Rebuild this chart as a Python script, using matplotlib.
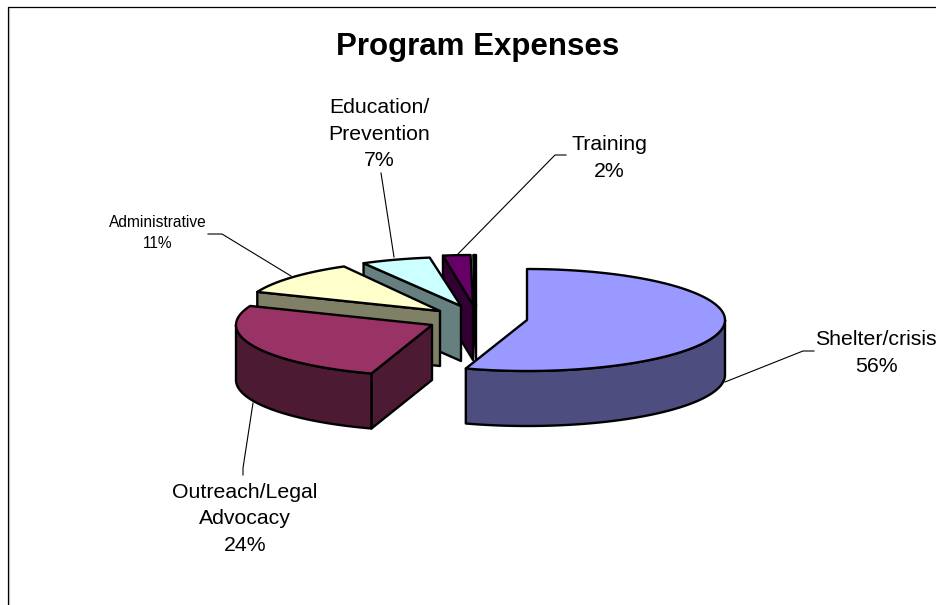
import numpy as np
from matplotlib import pyplot as plt
from matplotlib.patches import Polygon

# wedge sizes as drawn in the picture (3D view skews them a bit from the printed labels)
slice_names = ["Shelter/crisis", "Outreach/Legal", "Administrative", "Education", "Training", "Other"]
slice_shares = [55.0, 26.1, 10.8, 5.6, 2.3, 0.2]
label_texts = ["Shelter/crisis\n56%", "Outreach/Legal\nAdvocacy\n24%", "Administrative\n11%", "Education/\nPrevention\n7%", "Training\n2%"]
top_colors = ["#9999FF", "#993366", "#FFFFCC", "#CCFFFF", "#660066", "#FF8080"]
side_colors = ["#4D4D80", "#4D1A33", "#808066", "#668080", "#330033", "#804040"]

# apex x, apex y, radius x, radius y for each exploded wedge
apex_x = [527, 432, 440, 461, 473, 476]
apex_y = [320, 325, 311, 306, 305, 306]
rad_x = [198, 196, 197, 200, 192, 192]
rad_y = [51, 51, 51, 49, 50, 51]
DEPTH = 55
LW = 1.7


def rim(i, a, b):
    t = np.radians(np.linspace(a, b, max(int(abs(b - a)) * 2, 2)))
    return np.column_stack([apex_x[i] + rad_x[i] * np.sin(t), apex_y[i] - rad_y[i] * np.cos(t)])


def face(ax, pts, color):
    ax.add_patch(Polygon(pts, closed=True, facecolor=color, edgecolor="black", lw=LW, joinstyle="round"))


def extrude(pts):
    return np.vstack([pts, (pts + [0, DEPTH])[::-1]])


def draw_slice(ax, i, start, end):
    apex = np.array([[apex_x[i], apex_y[i]]], dtype=float)
    # radial cut faces that look towards the viewer
    if start > 180:
        face(ax, extrude(np.vstack([rim(i, start, start), apex])), side_colors[i])
    if end < 180:
        face(ax, extrude(np.vstack([rim(i, end, end), apex])), side_colors[i])
    # outer wall, only the part on the near side
    a, b = max(start, 90), min(end, 270)
    if a < b:
        face(ax, extrude(rim(i, a, b)), side_colors[i])
    face(ax, np.vstack([apex, rim(i, start, end)]), top_colors[i])


fig = plt.figure(figsize=(9.37, 6.05), dpi=100)
plt.rcParams["font.family"] = ["Liberation Sans", "DejaVu Sans"]
ax = fig.add_axes([0, 0, 1, 1])
ax.set_xlim(0, 937)
ax.set_ylim(605, 0)
ax.axis("off")

# chart frame runs off the image on the right and bottom
ax.plot([9.5, 9.5], [8, 605], color="#d8d8d8", lw=1.0)
ax.plot([8.5, 8.5, 937], [605, 6.5, 6.5], color="black", lw=0.9)

ax.text(478, 47, "Program Expenses", ha="center", va="center", fontsize=22.5, fontweight="bold")

# leader lines
leaders = [
    ([725, 803, 814], [382, 351, 351]),
    ([253, 243, 243], [403, 468, 475]),
    ([291, 222, 208], [276, 234, 234]),
    ([394, 381], [257, 173]),
    ([457, 555, 566], [255, 155, 155]),
]
for xs, ys in leaders:
    ax.plot(xs, ys, color="black", lw=0.8)

edges = np.concatenate([[0], np.cumsum(slice_shares)]) * 3.6
# back to front
for i in [5, 4, 3, 2, 1, 0]:
    draw_slice(ax, i, edges[i], edges[i + 1])

ax.text(876, 353, label_texts[0], ha="center", va="center", fontsize=15.3, linespacing=1.5)
ax.text(245, 519, label_texts[1], ha="center", va="center", fontsize=15.3, linespacing=1.5)
ax.text(158, 233, label_texts[2], ha="center", va="center", fontsize=11.2, linespacing=1.55)
ax.text(379, 134, label_texts[3], ha="center", va="center", fontsize=15.3, linespacing=1.5)
ax.text(609, 158, label_texts[4], ha="center", va="center", fontsize=15.3, linespacing=1.5)

fig.savefig("out.png", dpi=100)
